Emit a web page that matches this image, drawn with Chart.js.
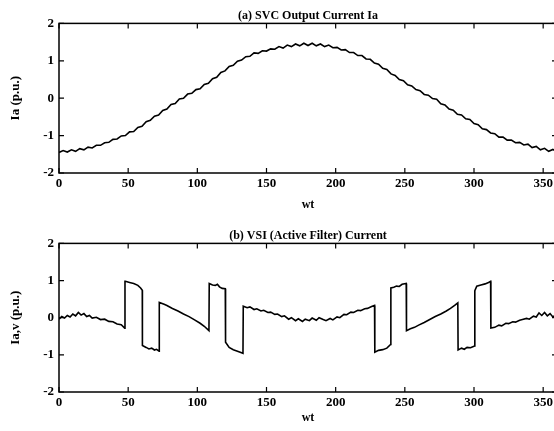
<!DOCTYPE html>
<html>
<head>
<meta charset="utf-8">
<script src="https://cdn.jsdelivr.net/npm/chart.js@4.4.1/dist/chart.umd.min.js"></script>
<style>
  html, body { margin: 0; padding: 0; background: #fff; overflow: hidden; width: 554px; height: 431px; }
  canvas { position: absolute; left: 0; }
  #svcChart { top: 0; }
  #vsiChart { top: 220px; }
</style>
</head>
<body>
<canvas id="svcChart" width="560" height="215"></canvas>
<canvas id="vsiChart" width="560" height="211"></canvas>
<script>
// (a) SVC output current, read every 3 degrees
const svcAngle = [
  0, 3, 6, 9, 12, 15, 18, 21, 24, 27, 30, 33, 36, 39, 42, 45, 48, 51, 54, 57,
  60, 63, 66, 69, 72, 75, 78, 81, 84, 87, 90, 93, 96, 99, 102, 105, 108, 111, 114, 117,
  120, 123, 126, 129, 132, 135, 138, 141, 144, 147, 150, 153, 156, 159, 162, 165, 168, 171, 174, 177,
  180, 183, 186, 189, 192, 195, 198, 201, 204, 207, 210, 213, 216, 219, 222, 225, 228, 231, 234, 237,
  240, 243, 246, 249, 252, 255, 258, 261, 264, 267, 270, 273, 276, 279, 282, 285, 288, 291, 294, 297,
  300, 303, 306, 309, 312, 315, 318, 321, 324, 327, 330, 333, 336, 339, 342, 345, 348, 351, 354, 357,
  360
];
const svcCurrent = [
  -1.45, -1.40, -1.44, -1.38, -1.42, -1.35, -1.38, -1.31, -1.33, -1.26, -1.26, -1.19, -1.18, -1.10, -1.09, -1.01, -1.00, -0.90, -0.89, -0.78,
  -0.75, -0.63, -0.59, -0.48, -0.45, -0.33, -0.29, -0.17, -0.14, -0.02, 0.00, 0.11, 0.13, 0.23, 0.25, 0.37, 0.40, 0.52, 0.56, 0.69,
  0.73, 0.85, 0.88, 0.99, 1.02, 1.11, 1.12, 1.21, 1.20, 1.27, 1.26, 1.32, 1.31, 1.38, 1.34, 1.42, 1.38, 1.45, 1.40, 1.47,
  1.41, 1.47, 1.40, 1.45, 1.38, 1.42, 1.35, 1.36, 1.29, 1.30, 1.22, 1.22, 1.14, 1.14, 1.05, 1.04, 0.94, 0.91, 0.80, 0.77,
  0.65, 0.61, 0.50, 0.47, 0.36, 0.33, 0.23, 0.20, 0.10, 0.08, -0.01, -0.03, -0.15, -0.18, -0.29, -0.32, -0.43, -0.45, -0.55, -0.57,
  -0.68, -0.71, -0.82, -0.84, -0.93, -0.95, -1.04, -1.04, -1.12, -1.12, -1.19, -1.18, -1.25, -1.23, -1.32, -1.29, -1.38, -1.34, -1.42, -1.37,
  -1.44
];

// (b) VSI (active filter) current, switching edges repeat the angle
const vsiAngle = [
  0, 2, 4, 6, 8, 10, 12, 14, 16, 18, 20, 22, 24, 27, 30, 33, 36, 39, 42, 45, 47.5,
  47.7, 48, 51, 54, 57, 59, 60.2,
  60.3, 63, 65, 67, 69, 70.5, 72.4,
  72.5, 76, 78, 82, 86, 90, 94, 98, 102, 105, 108.4,
  108.6, 111, 113, 114.5, 116, 118, 120.2,
  120.4, 123, 126, 129, 131, 133,
  133.2, 136, 138, 141, 143, 146, 148, 151, 153, 156, 158, 161, 163, 166, 168, 171, 173, 176, 178, 181,
  183, 186, 188, 191, 193, 196, 198, 201, 203, 206, 208, 211, 213, 216, 218, 221, 223, 226, 228.1,
  228.3, 231, 234, 237, 239.7,
  239.9, 242, 244, 246, 248, 251,
  251.2, 254, 257, 260, 264, 268, 272, 276, 280, 283, 286, 288.3,
  288.5, 291, 293, 295, 297.5, 300.4,
  300.6, 302, 305, 308, 310.5, 312,
  312.2, 315, 318, 320, 323, 325, 328, 330, 333, 335, 338, 340, 343, 345, 347, 349, 351, 353, 355, 357, 359, 360
];
const vsiCurrent = [
  -0.04, 0.03, -0.01, 0.06, 0.02, 0.10, 0.05, 0.14, 0.07, 0.11, 0.03, 0.06, -0.01, 0.01, -0.05, -0.04, -0.10, -0.11, -0.17, -0.19, -0.28,
  0.98, 0.98, 0.95, 0.92, 0.87, 0.80, 0.74,
  -0.75, -0.80, -0.84, -0.82, -0.87, -0.85, -0.90,
  0.41, 0.36, 0.33, 0.25, 0.18, 0.10, 0.03, -0.06, -0.15, -0.23, -0.35,
  0.92, 0.88, 0.87, 0.90, 0.83, 0.79, 0.78,
  -0.66, -0.80, -0.86, -0.90, -0.93, -0.96,
  0.31, 0.27, 0.29, 0.22, 0.24, 0.18, 0.20, 0.14, 0.15, 0.09, 0.10, 0.03, 0.05, -0.04, 0.00, -0.08, -0.03, -0.10, -0.04, -0.08,
  -0.01, -0.07, 0.00, -0.05, -0.08, -0.02, -0.06, 0.02, 0.00, 0.09, 0.08, 0.15, 0.14, 0.20, 0.19, 0.24, 0.25, 0.30, 0.33,
  -0.93, -0.88, -0.86, -0.82, -0.72,
  0.80, 0.82, 0.85, 0.84, 0.90, 0.92,
  -0.35, -0.30, -0.26, -0.20, -0.13, -0.05, 0.03, 0.10, 0.18, 0.25, 0.33, 0.40,
  -0.87, -0.82, -0.85, -0.80, -0.81, -0.76,
  0.73, 0.85, 0.88, 0.91, 0.95, 0.98,
  -0.28, -0.26, -0.20, -0.22, -0.15, -0.16, -0.11, -0.12, -0.07, -0.05, -0.02, -0.04, 0.04, 0.02, 0.13, 0.06, 0.14, 0.05, 0.11, 0.02, 0.07, 0.03
];

const xTickValues = [0, 50, 100, 150, 200, 250, 300, 350];
const yTickValues = [-2, -1, 0, 1, 2];

const serif = 'Liberation Serif, Times New Roman, serif';
Chart.defaults.color = '#000';
Chart.defaults.font.family = serif;

// matlab style box with ticks pointing inward
const boxTicks = {
  id: 'boxTicks',
  afterDraw(chart) {
    const { ctx, chartArea: a, scales: { x, y } } = chart;
    ctx.save();
    ctx.strokeStyle = '#000';
    ctx.lineWidth = 1.5;
    ctx.strokeRect(a.left, a.top, a.right - a.left, a.bottom - a.top);
    ctx.lineWidth = 1.2;
    ctx.beginPath();
    x.ticks.forEach(t => {
      const px = x.getPixelForValue(t.value);
      ctx.moveTo(px, a.bottom); ctx.lineTo(px, a.bottom - 5);
      ctx.moveTo(px, a.top); ctx.lineTo(px, a.top + 5);
    });
    y.ticks.forEach(t => {
      const py = y.getPixelForValue(t.value);
      ctx.moveTo(a.left, py); ctx.lineTo(a.left + 5, py);
      ctx.moveTo(a.right, py); ctx.lineTo(a.right - 5, py);
    });
    ctx.stroke();
    ctx.restore();
  }
};

function makeChart(id, title, yTitle, xs, ys, xAxisHeight, xTitlePad) {
  const ctx = document.getElementById(id).getContext('2d');
  return new Chart(ctx, {
    type: 'scatter',
    data: {
      datasets: [{
        data: xs.map((v, i) => ({ x: v, y: ys[i] })),
        showLine: true,
        borderColor: '#000',
        borderWidth: 1.6,
        pointRadius: 0,
        tension: 0
      }]
    },
    options: {
      responsive: false,
      animation: false,
      devicePixelRatio: 1,
      layout: { padding: { top: 0, right: 3, bottom: 0, left: 0 } },
      plugins: {
        legend: { display: false },
        tooltip: { enabled: false },
        title: {
          display: true,
          text: title,
          fullSize: false,
          font: { size: 12, weight: 'bold', family: serif },
          padding: { top: 9, bottom: 0 }
        }
      },
      scales: {
        x: {
          type: 'linear',
          min: 0,
          max: 360,
          grid: { display: false, drawTicks: false },
          border: { display: false },
          afterBuildTicks: s => { s.ticks = xTickValues.map(v => ({ value: v })); },
          afterFit: s => { s.height = xAxisHeight; },
          ticks: { padding: 3, font: { size: 13, weight: 'bold' } },
          title: {
            display: true,
            text: 'wt',
            font: { size: 12, weight: 'bold' },
            padding: { top: 0, bottom: xTitlePad }
          }
        },
        y: {
          min: -2,
          max: 2,
          grid: { display: false, drawTicks: false },
          border: { display: false },
          afterBuildTicks: s => { s.ticks = yTickValues.map(v => ({ value: v })); },
          afterFit: s => { s.width = 59; },
          ticks: { padding: 5, font: { size: 13, weight: 'bold' } },
          title: {
            display: true,
            text: yTitle,
            font: { size: 13, weight: 'bold' },
            padding: { top: 8, bottom: 0 }
          }
        }
      }
    },
    plugins: [boxTicks]
  });
}

makeChart('svcChart', '(a) SVC Output Current Ia', 'Ia (p.u.)', svcAngle, svcCurrent, 42, 3);
makeChart('vsiChart', '(b) VSI (Active Filter) Current', 'Ia,v (p.u.)', vsiAngle, vsiCurrent, 39, 6);
</script>
</body>
</html>
